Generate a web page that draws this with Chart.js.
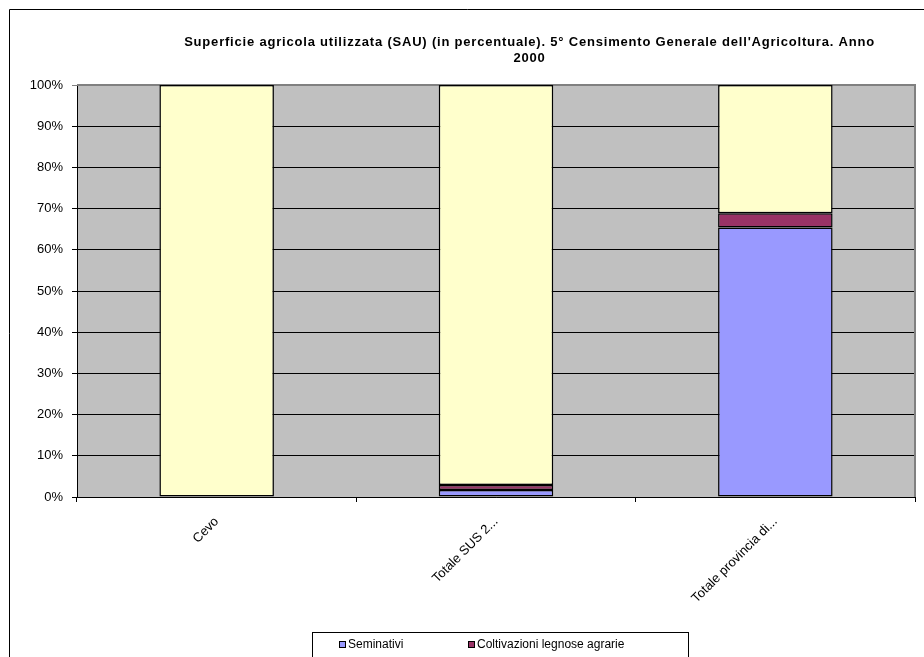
<!DOCTYPE html>
<html>
<head>
<meta charset="utf-8">
<script src="https://cdn.jsdelivr.net/npm/chart.js@4"></script>
<style>
  html, body { margin: 0; padding: 0; background: #fff; overflow: hidden; }
  #wrap { width: 924px; height: 657px; }
</style>
</head>
<body>
<div id="wrap"><canvas id="myChart" width="924" height="657"></canvas></div>
<script>
// SAU in percentuale - 5° Censimento Generale dell'Agricoltura 2000
const categories = ['Cevo', 'Totale SUS 2...', 'Totale provincia di...'];
const seminativi = [0, 1.7, 65.4];
const coltivazioni = [0, 1.2, 3.5];
const prati = [100, 97.1, 31.1];

const seriesNames = ['Seminativi', 'Coltivazioni legnose agrarie', 'Prati permanenti e pascoli'];
const seriesColors = ['#9999FF', '#993366', '#FFFFCC'];
const titleLines = ["Superficie agricola utilizzata (SAU) (in percentuale). 5° Censimento Generale dell'Agricoltura. Anno", '2000'];

const FONT = '"Liberation Sans", Arial, sans-serif';

// frame, plot background and the plot's grey border
const framePlugin = {
  id: 'frame',
  beforeDraw(chart) {
    const ctx = chart.ctx, a = chart.chartArea;
    ctx.save();
    ctx.fillStyle = '#fff';
    ctx.fillRect(0, 0, chart.width, chart.height);
    ctx.strokeStyle = '#000';
    ctx.lineWidth = 1;
    ctx.beginPath();
    ctx.moveTo(9.5, chart.height + 5);
    ctx.lineTo(9.5, 9.5);
    ctx.lineTo(chart.width + 5, 9.5);
    ctx.stroke();
    ctx.fillStyle = '#C0C0C0';
    ctx.fillRect(a.left, a.top, a.right - a.left, a.bottom - a.top);
    ctx.restore();
  },
  beforeDatasetsDraw(chart) {
    const ctx = chart.ctx, a = chart.chartArea;
    ctx.save();
    ctx.strokeStyle = '#808080';
    ctx.lineWidth = 2;
    ctx.beginPath();
    ctx.moveTo(a.left, a.top);
    ctx.lineTo(a.right, a.top);
    ctx.lineTo(a.right, a.bottom);
    ctx.stroke();
    ctx.restore();
  },
  afterDraw(chart) {
    const ctx = chart.ctx, a = chart.chartArea;
    ctx.save();
    // title
    ctx.fillStyle = '#000';
    ctx.font = 'bold 13px ' + FONT;
    ctx.letterSpacing = '0.8px';
    ctx.textAlign = 'center';
    ctx.textBaseline = 'middle';
    const cx = a.left + (a.right - a.left) * 0.54;
    titleLines.forEach((t, i) => ctx.fillText(t, cx, 42 + i * 16));
    ctx.letterSpacing = '0px';

    // legend box (clipped by the bottom edge, like the original)
    const boxX = 312, boxY = 632, boxW = 376, rowH = 24;
    ctx.strokeStyle = '#000';
    ctx.lineWidth = 1;
    ctx.strokeRect(boxX + 0.5, boxY + 0.5, boxW, rowH * 2 + 8);
    ctx.font = '12px ' + FONT;
    ctx.textAlign = 'left';
    const itemX = [339, 468, 339];
    chart.data.datasets.forEach((ds, i) => {
      const x = itemX[i];
      const y = boxY + 13 + Math.floor(i / 2) * rowH;
      ctx.fillStyle = ds.backgroundColor;
      ctx.fillRect(x, y - 4, 7, 7);
      ctx.strokeRect(x + 0.5, y - 3.5, 6, 6);
      ctx.fillStyle = '#000';
      ctx.fillText(ds.label, x + 9, y);
    });
    ctx.restore();
  }
};

const names = [seminativi, coltivazioni, prati];
const datasets = names.map((vals, i) => ({
  label: seriesNames[i],
  data: vals,
  backgroundColor: seriesColors[i],
  borderColor: '#000',
  borderWidth: 1.5,
  borderSkipped: false,
  categoryPercentage: 1,
  barPercentage: 0.41
}));

new Chart(document.getElementById('myChart'), {
  type: 'bar',
  data: { labels: categories, datasets: datasets },
  options: {
    responsive: false,
    animation: false,
    layout: { padding: { left: 0, top: 85, right: 9, bottom: 0 } },
    plugins: {
      legend: { display: false },
      title: { display: false },
      tooltip: { enabled: false }
    },
    scales: {
      x: {
        stacked: true,
        afterFit: (s) => { s.height = 160; },
        grid: {
          offset: true,
          drawOnChartArea: false,
          color: '#000',
          tickLength: 5
        },
        border: { color: '#000', width: 1 },
        ticks: {
          autoSkip: false,
          minRotation: 45,
          maxRotation: 45,
          padding: 12,
          color: '#000',
          font: { family: FONT, size: 13 }
        }
      },
      y: {
        stacked: true,
        min: 0,
        max: 100,
        afterFit: (s) => { s.width = 77; },
        grid: {
          color: (c) => (c.tick && c.tick.value === 100 ? '#808080' : '#000'),
          tickLength: 5,
          lineWidth: 1
        },
        border: { color: '#000', width: 1 },
        ticks: {
          stepSize: 10,
          padding: 9,
          color: '#000',
          font: { family: FONT, size: 13 },
          callback: (v) => v + '%'
        }
      }
    }
  },
  plugins: [framePlugin]
});
</script>
</body>
</html>
